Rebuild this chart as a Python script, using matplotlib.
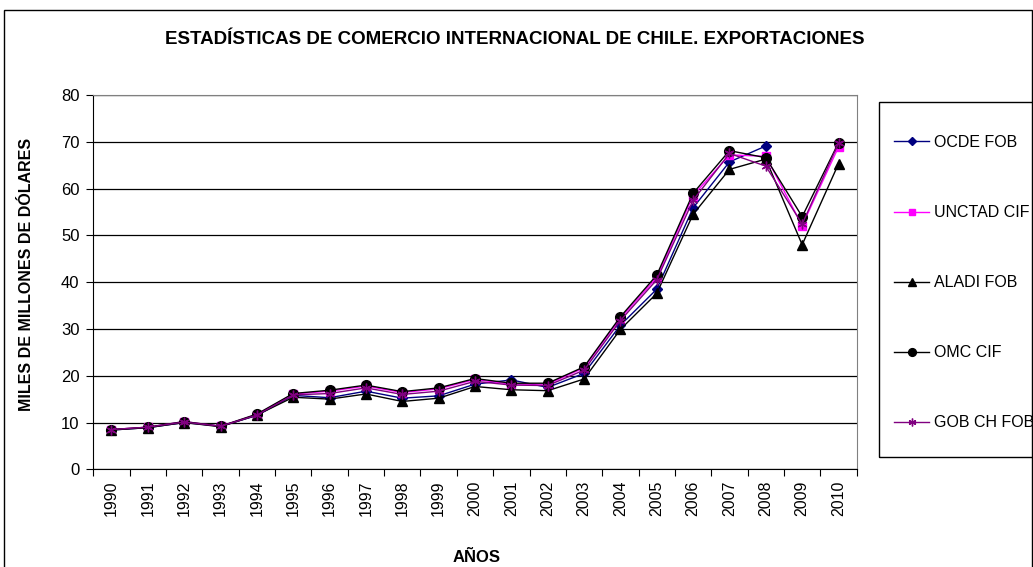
import numpy as np
import matplotlib
matplotlib.use('Agg')
import matplotlib.pyplot as plt
from matplotlib.patches import Rectangle

plt.rcParams['font.family'] = ['Liberation Sans', 'DejaVu Sans']

years = [str(y) for y in range(1990, 2011)]
nan = np.nan
ocde = [8.4, 8.9, 10.0, 9.2, 11.5, 15.8, 15.3, 16.7, 15.2, 15.7, 18.2,
        19.1, 17.5, 20.5, 30.8, 38.5, 55.9, 65.7, 69.1, nan, nan]
unctad = [8.5, 9.0, 10.2, 9.2, 11.7, 16.1, 16.7, 17.8, 16.4, 17.2, 19.2,
          18.2, 18.2, 21.7, 32.3, 41.0, 58.5, 67.2, 66.9, 52.1, 68.9]
aladi = [8.4, 8.9, 10.0, 9.1, 11.6, 15.4, 15.0, 16.1, 14.5, 15.2, 17.7,
         17.0, 16.8, 19.3, 29.9, 37.6, 54.5, 64.1, 66.3, 48.0, 65.3]
omc = [8.5, 9.0, 10.2, 9.2, 11.8, 16.2, 16.9, 18.0, 16.6, 17.4, 19.4,
       18.4, 18.4, 21.9, 32.6, 41.5, 59.0, 68.1, 66.6, 54.0, 69.8]
gob = [8.5, 9.0, 10.1, 9.2, 11.6, 15.9, 16.2, 17.4, 16.0, 16.7, 18.8,
       18.0, 17.9, 21.2, 31.8, 40.5, 57.5, 67.5, 64.8, 52.4, 69.7]

W, H = 1033, 567
fig = plt.figure(figsize=(W / 100, H / 100), dpi=100)
ax = fig.add_axes([93.3 / W, 1 - 469.3 / H, (856.7 - 93.3) / W, (469.3 - 95) / H])

x = np.arange(len(years))
l1, = ax.plot(x, ocde, '-', color='#000080', marker='D', ms=5, lw=1, label='OCDE FOB')
l2, = ax.plot(x, unctad, '-', color='#FF00FF', marker='s', ms=6, lw=1, label='UNCTAD CIF')
l3, = ax.plot(x, aladi, '-', color='black', marker='^', ms=7, lw=1, label='ALADI FOB')
l4, = ax.plot(x, omc, '-', color='black', marker='o', ms=7, lw=1, label='OMC CIF')
l5, = ax.plot(x, gob, '-', color='#800080', marker=(6, 2, 0), ms=7, mew=1, lw=1,
              label='GOB CH FOB')

ax.set_xlim(-0.5, len(years) - 0.5)
ax.set_ylim(0, 80)
ax.set_yticks(range(0, 81, 10))
ax.yaxis.grid(True, color='black', lw=0.9)
ax.set_axisbelow(True)
ax.set_xticks(np.arange(-0.5, len(years), 1))
ax.set_xticklabels([])
ax.set_xticks(x, minor=True)
ax.set_xticklabels(years, minor=True, rotation=90, fontsize=11.5)
ax.tick_params(axis='x', which='minor', length=0, pad=8)
ax.tick_params(axis='x', which='major', length=5, direction='out')
ax.tick_params(axis='y', length=5, labelsize=12, pad=5)
for s in ['top', 'right']:
    ax.spines[s].set_color('#808080')
for s in ['left', 'bottom']:
    ax.spines[s].set_color('black')

fig.text(515 / W, 1 - 40 / H, 'ESTADÍSTICAS DE COMERCIO INTERNACIONAL DE CHILE. EXPORTACIONES',
         ha='center', va='center', fontsize=13.5, fontweight='bold')
fig.text(27 / W, 1 - 274 / H, 'MILES DE MILLONES DE DÓLARES', rotation=90,
         ha='center', va='center', fontsize=11.5, fontweight='bold')
fig.text(477 / W, 1 - 558 / H, 'AÑOS', ha='center', va='center',
         fontsize=12, fontweight='bold')

# outer chart border and legend box
fig.patches.append(Rectangle((4 / W, -0.02), (W - 5) / W, 1.02 - 10 / H, fill=False,
                             edgecolor='black', lw=1, transform=fig.transFigure))
fig.patches.append(Rectangle((879 / W, 1 - 457 / H), 0.2, (457 - 102) / H, fill=False,
                             edgecolor='black', lw=1, transform=fig.transFigure))

leg = fig.legend(handles=[l1, l2, l3, l4, l5], loc='upper left',
                 bbox_to_anchor=(886 / W, 1 - 127 / H), frameon=False, fontsize=11.5,
                 labelspacing=3.45, handlelength=2.2, handletextpad=0.3,
                 borderpad=0, markerscale=0.8)

fig.savefig('out.png', dpi=100)
